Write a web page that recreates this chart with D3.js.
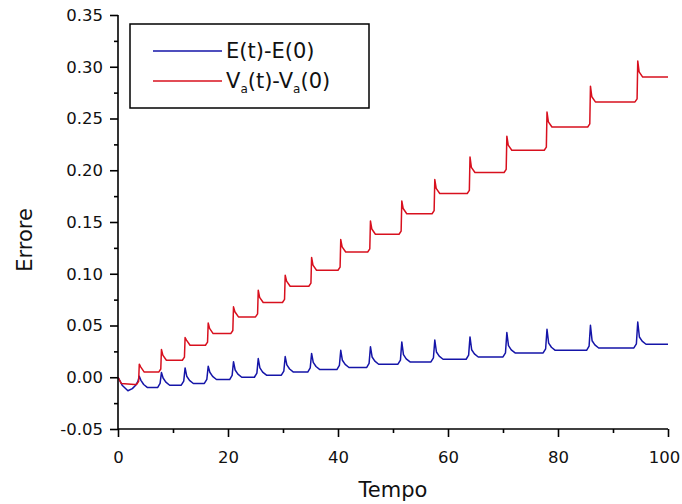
<!DOCTYPE html>
<html><head><meta charset="utf-8">
<script src="https://cdn.jsdelivr.net/npm/d3@7"></script>
<style>body{margin:0;background:#fff}</style></head>
<body><svg id="c" width="682" height="504"></svg>
<script>
// ---- data ----
const xTicks = [0, 20, 40, 60, 80, 100];
const yTicks = [-0.05, 0.00, 0.05, 0.10, 0.15, 0.20, 0.25, 0.30, 0.35];
const xMinor = [10, 30, 50, 70, 90];
const yMinor = [-0.025, 0.025, 0.075, 0.125, 0.175, 0.225, 0.275, 0.325];
const seriesNames = ["E(t)-E(0)", "V_a(t)-V_a(0)"];
const stepTimes  = [3.87, 7.9, 12.2, 16.4, 21.0, 25.5, 30.4, 35.2, 40.5, 45.9, 51.6, 57.6, 64.0, 70.7, 78.0, 85.9, 94.5];
const redPeaks   = [0.0126, 0.0268, 0.0383, 0.0525, 0.068, 0.0841, 0.0986, 0.1157, 0.133, 0.151, 0.1703, 0.191, 0.2129, 0.2329, 0.2563, 0.2812, 0.3056];
const redLevels  = [0.005, 0.0164, 0.0309, 0.0422, 0.0583, 0.0722, 0.0879, 0.1034, 0.121, 0.1382, 0.158, 0.1775, 0.1978, 0.2193, 0.2418, 0.266, 0.290];
const bluePeaks  = [0.001, 0.0045, 0.009, 0.0106, 0.015, 0.018, 0.020, 0.023, 0.026, 0.0295, 0.0341, 0.036, 0.039, 0.0432, 0.0464, 0.0502, 0.0534];
const blueLevels = [-0.010, -0.0077, -0.006, -0.0022, 0.000, 0.002, 0.005, 0.0074, 0.0094, 0.0126, 0.0148, 0.0174, 0.0196, 0.0235, 0.026, 0.0283, 0.0319];
const redStart  = [[0, 0], [0.6, -0.006], [3.0, -0.007]];
const blueStart = [[0, 0], [0.8, -0.008], [1.8, -0.013], [2.6, -0.011]];
const tEnd = 100;

// ---- layout ----
const svg = d3.select("#c");
const x = d3.scaleLinear().domain([0, 100]).range([118, 668]);
const y = d3.scaleLinear().domain([-0.05, 0.35]).range([429, 15]);

function buildRed() {
  const pts = redStart.slice();
  let prev = redStart[redStart.length - 1][1];
  stepTimes.forEach((ts, i) => {
    pts.push([ts - 0.5, prev], [ts - 0.12, prev + 0.003], [ts, redPeaks[i]],
             [ts + 0.25, redLevels[i] + 0.005], [ts + 0.9, redLevels[i]]);
    prev = redLevels[i];
  });
  pts.push([tEnd, prev]);
  return pts;
}
function buildBlue() {
  const pts = blueStart.slice();
  let prev = -0.008;
  stepTimes.forEach((ts, i) => {
    pts.push([ts - 0.7, prev], [ts - 0.25, prev + 0.004], [ts, bluePeaks[i]],
             [ts + 0.3, blueLevels[i] + 0.007], [ts + 0.8, blueLevels[i] + 0.003], [ts + 1.5, blueLevels[i]]);
    prev = blueLevels[i];
  });
  pts.push([tEnd, prev]);
  return pts;
}

const line = d3.line().x(d => x(d[0])).y(d => y(d[1]));
svg.append("path").attr("d", line(buildBlue())).attr("fill", "none")
  .attr("stroke", "#1515a8").attr("stroke-width", 1.5).attr("stroke-linejoin", "round");
svg.append("path").attr("d", line(buildRed())).attr("fill", "none")
  .attr("stroke", "#d8101e").attr("stroke-width", 1.5).attr("stroke-linejoin", "round");

// ---- axes ----
const font = "DejaVu Sans, sans-serif";
const yAx = svg.append("g").attr("transform", "translate(118,0)")
  .call(d3.axisLeft(y).tickValues(yTicks).tickFormat(d => d.toFixed(2)).tickSize(8).tickPadding(7));
yAx.selectAll("text").attr("font-family", font).attr("font-size", 16.5).attr("fill", "#111");
const yMin = svg.append("g").attr("transform", "translate(118,0)")
  .call(d3.axisLeft(y).tickValues(yMinor).tickFormat("").tickSize(4));
const xAx = svg.append("g").attr("transform", "translate(0,429)")
  .call(d3.axisBottom(x).tickValues(xTicks).tickFormat(d3.format("d")).tickSize(8).tickPadding(14));
xAx.selectAll("text").attr("font-family", font).attr("font-size", 16.5).attr("fill", "#111");
xAx.selectAll(".tick").filter(d => d === 100).select("text").attr("dx", -4);
const xMin = svg.append("g").attr("transform", "translate(0,429)")
  .call(d3.axisBottom(x).tickValues(xMinor).tickFormat("").tickSize(4));
svg.selectAll(".domain").attr("stroke", "#000").attr("stroke-width", 1.6);
svg.selectAll(".tick line").attr("stroke", "#000").attr("stroke-width", 1.6);
yAx.select(".domain").attr("d", `M0,${y(0.35)}V${y(-0.05)}`);
yMin.select(".domain").remove();
xAx.select(".domain").attr("d", `M${x(0)},0H${x(100)}`);
xMin.select(".domain").remove();

// axis titles
svg.append("text").attr("x", 393).attr("y", 497).attr("text-anchor", "middle")
  .attr("font-family", font).attr("font-size", 21).attr("fill", "#111").text("Tempo");
svg.append("text").attr("transform", "translate(32,240) rotate(-90)").attr("text-anchor", "middle")
  .attr("font-family", font).attr("font-size", 21).attr("fill", "#111").text("Errore");

// ---- legend ----
const lg = svg.append("g");
lg.append("rect").attr("x", 130).attr("y", 24).attr("width", 239).attr("height", 84)
  .attr("fill", "#fff").attr("stroke", "#000").attr("stroke-width", 1.5);
lg.append("line").attr("x1", 153).attr("x2", 222).attr("y1", 51).attr("y2", 51)
  .attr("stroke", "#1515a8").attr("stroke-width", 1.5);
lg.append("line").attr("x1", 153).attr("x2", 222).attr("y1", 81).attr("y2", 81)
  .attr("stroke", "#d8101e").attr("stroke-width", 1.5);
lg.append("text").attr("x", 226).attr("y", 58).attr("font-family", font).attr("font-size", 21)
  .attr("fill", "#111").text(seriesNames[0]);
const t2 = lg.append("text").attr("x", 226).attr("y", 88).attr("font-family", font).attr("font-size", 21).attr("fill", "#111");
const parts = seriesNames[1].split("_a");
t2.append("tspan").text(parts[0]);
t2.append("tspan").attr("font-size", 12).attr("dy", 5).text("a");
t2.append("tspan").attr("dy", -5).text(parts[1]);
t2.append("tspan").attr("font-size", 12).attr("dy", 5).text("a");
t2.append("tspan").attr("dy", -5).text(parts[2]);
</script>
</body></html>
